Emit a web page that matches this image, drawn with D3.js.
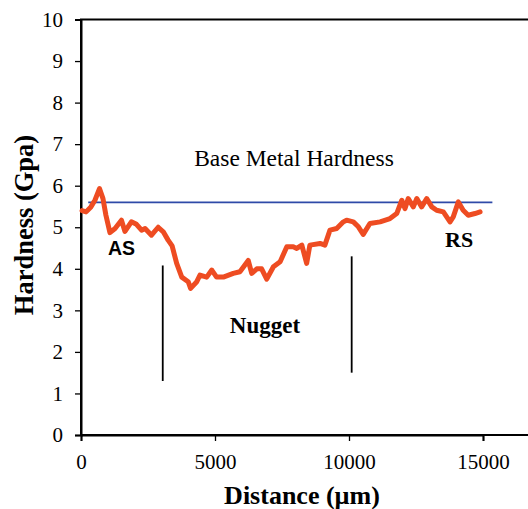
<!DOCTYPE html>
<html>
<head>
<meta charset="utf-8">
<script src="https://cdn.jsdelivr.net/npm/d3@7"></script>
<style>
  body { margin: 0; background: #fff; }
  svg { display: block; }
  text { font-family: "Liberation Serif", "Times New Roman", serif; fill: #000; }
</style>
</head>
<body>
<svg id="chart" width="528" height="509"></svg>
<script>
// distance (µm) and hardness (GPa)
const distance = [
  40, 190, 370, 520, 690, 820, 930, 1080, 1270, 1510, 1640, 1880, 2070, 2260,
  2390, 2630, 2880, 3070, 3250, 3400, 3570, 3760, 4000, 4090, 4320, 4440, 4690,
  4880, 5060, 5310, 5680, 5930, 6240, 6370, 6560, 6740, 6930, 7180, 7430, 7680,
  7920, 8050, 8240, 8420, 8540, 8920, 9100, 9290, 9540, 9790, 9910, 10160,
  10350, 10530, 10780, 11160, 11530, 11780, 11970, 12090, 12210, 12400, 12530,
  12710, 12900, 13090, 13270, 13520, 13770, 13890, 14080, 14260, 14450, 14700,
  14890,
];
const hardness = [
  5.4, 5.37, 5.49, 5.65, 5.93, 5.69, 5.29, 4.87, 4.97, 5.17, 4.9, 5.13, 5.07,
  4.93, 4.97, 4.81, 5.0, 4.89, 4.69, 4.55, 4.13, 3.8, 3.69, 3.53, 3.69, 3.85,
  3.8, 3.97, 3.8, 3.8, 3.89, 3.93, 4.2, 3.89, 4.0, 4.0, 3.75, 4.05, 4.17, 4.53,
  4.53, 4.49, 4.57, 4.13, 4.57, 4.61, 4.57, 4.93, 4.97, 5.13, 5.17, 5.13, 5.01,
  4.83, 5.09, 5.13, 5.21, 5.33, 5.65, 5.45, 5.69, 5.49, 5.69, 5.49, 5.69, 5.49,
  5.41, 5.37, 5.13, 5.25, 5.61, 5.41, 5.29, 5.33, 5.37,
];

// base metal reference line
const baseMetal = { x0: 270, x1: 15350, value: 5.6 };

// zone boundaries [distance, top, bottom]
const boundaries = [
  [3050, 4.08, 1.3],
  [10100, 4.3, 1.5],
];

const xTicks = [0, 5000, 10000, 15000];
const yTicks = d3.range(0, 11);

const svg = d3.select("#chart");
const marginLeft = 81, plotTop = 19.5, plotBottom = 435;

const x = d3.scaleLinear().domain([0, 15000]).range([marginLeft, 483]);
const y = d3.scaleLinear().domain([0, 10]).range([plotBottom, plotTop]);

// frame
svg
  .append("rect")
  .attr("x", marginLeft)
  .attr("y", plotTop)
  .attr("width", 560 - marginLeft)
  .attr("height", plotBottom - plotTop)
  .attr("fill", "none")
  .attr("stroke", "#000")
  .attr("stroke-width", 2);

const yAxis = svg
  .append("g")
  .attr("transform", `translate(${marginLeft},0)`)
  .call(d3.axisLeft(y).tickValues(yTicks).tickSize(6).tickPadding(12));

const xAxis = svg
  .append("g")
  .attr("transform", `translate(0,${plotBottom})`)
  .call(
    d3.axisBottom(x).tickValues(xTicks).tickFormat(d3.format("d"))
      .tickSize(6).tickPadding(13)
  );

for (const g of [xAxis, yAxis]) {
  g.select(".domain").attr("stroke-width", 2);
  g.selectAll(".tick line").attr("stroke-width", 1.3);
  g.selectAll(".tick text")
    .style("font-family", '"Liberation Serif", serif')
    .style("font-size", "21px");
}

// base metal line
svg
  .append("line")
  .attr("x1", x(baseMetal.x0))
  .attr("x2", x(baseMetal.x1))
  .attr("y1", y(baseMetal.value))
  .attr("y2", y(baseMetal.value))
  .attr("stroke", "#2f4aa8")
  .attr("stroke-width", 1.8);

// hardness profile
const line = d3
  .line()
  .x((d, i) => x(distance[i]))
  .y((d) => y(d));

svg
  .append("path")
  .attr("d", line(hardness))
  .attr("fill", "none")
  .attr("stroke", "#ee4c22")
  .attr("stroke-width", 5)
  .attr("stroke-linejoin", "round")
  .attr("stroke-linecap", "round");

// zone boundaries
for (const [d, a, b] of boundaries)
  svg
    .append("line")
    .attr("x1", x(d))
    .attr("x2", x(d))
    .attr("y1", y(a))
    .attr("y2", y(b))
    .attr("stroke", "#000")
    .attr("stroke-width", 1.8);

// labels
svg
  .append("text")
  .text("Base Metal Hardness")
  .attr("x", 294)
  .attr("y", 166)
  .attr("text-anchor", "middle")
  .style("font-size", "23.5px");

svg
  .append("text")
  .text("AS")
  .attr("x", 108)
  .attr("y", 255)
  .style("font-family", '"Liberation Sans", Arial, sans-serif')
  .style("font-weight", "bold")
  .style("font-size", "19.5px");

svg
  .append("text")
  .text("RS")
  .attr("x", 445)
  .attr("y", 247)
  .style("font-weight", "bold")
  .style("font-size", "22px");

svg
  .append("text")
  .text("Nugget")
  .attr("x", 265)
  .attr("y", 333)
  .attr("text-anchor", "middle")
  .style("font-weight", "bold")
  .style("font-size", "23px");

svg
  .append("text")
  .text("Distance (µm)")
  .attr("x", 302)
  .attr("y", 504)
  .attr("text-anchor", "middle")
  .style("font-weight", "bold")
  .style("font-size", "26px");

svg
  .append("text")
  .text("Hardness (Gpa)")
  .attr("transform", "translate(33,225) rotate(-90)")
  .attr("text-anchor", "middle")
  .style("font-weight", "bold")
  .style("font-size", "26.5px");
</script>
</body>
</html>
